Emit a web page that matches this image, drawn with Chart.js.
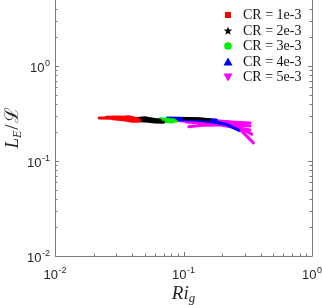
<!DOCTYPE html>
<html>
<head>
<meta charset="utf-8">
<script src="https://cdn.jsdelivr.net/npm/chart.js@4/dist/chart.umd.min.js"></script>
<style>
html,body{margin:0;padding:0;background:#fff;overflow:hidden;}
#wrap{position:relative;width:322px;height:305px;}
</style>
</head>
<body>
<div id="wrap"><canvas id="c" width="322" height="305"></canvas></div>
<script>
// ---- data ----
const seriesLabels = ['CR = 1e-3', 'CR = 2e-3', 'CR = 3e-3', 'CR = 4e-3', 'CR = 5e-3'];
const seriesColors = ['#ff0000', '#000000', '#00ee00', '#0000ff', '#ff00ff'];
const seriesMarkers = ['square', 'star', 'circle', 'triangle', 'triangleDown'];

// Ri_g values, one array per trajectory
const riCR1 = [[0.0221, 0.027, 0.033, 0.040, 0.046], [0.025, 0.031, 0.036, 0.042], [0.028, 0.034, 0.040, 0.045], [0.030, 0.037, 0.044]];
const leCR1 = [[0.284, 0.282, 0.280, 0.272, 0.268], [0.288, 0.290, 0.284, 0.270], [0.279, 0.272, 0.262, 0.262], [0.286, 0.293, 0.278]];

const riCR2 = [[0.042, 0.048, 0.055, 0.062], [0.044, 0.050, 0.058, 0.066], [0.046, 0.053, 0.060, 0.070], [0.10, 0.13, 0.16]];
const leCR2 = [[0.272, 0.276, 0.270, 0.262], [0.280, 0.285, 0.276, 0.268], [0.266, 0.262, 0.258, 0.256], [0.280, 0.279, 0.272]];

const riCR3 = [[0.060, 0.068, 0.077, 0.088], [0.063, 0.072, 0.082], [0.066, 0.075, 0.085]];
const leCR3 = [[0.270, 0.272, 0.268, 0.262], [0.262, 0.262, 0.257], [0.278, 0.276, 0.270]];

const riCR4 = [[0.075, 0.09, 0.11, 0.14, 0.18], [0.08, 0.10, 0.13, 0.17, 0.22, 0.27], [0.09, 0.12, 0.16, 0.21]];
const leCR4 = [[0.284, 0.282, 0.280, 0.276, 0.270], [0.278, 0.276, 0.272, 0.262, 0.240, 0.210], [0.272, 0.270, 0.260, 0.245]];

const riCR5 = [[0.087, 0.11, 0.14, 0.18, 0.24, 0.33], [0.095, 0.12, 0.16, 0.21, 0.27, 0.33], [0.11, 0.14, 0.19, 0.25, 0.33], [0.12, 0.16, 0.21, 0.27, 0.34], [0.13, 0.17, 0.22, 0.28, 0.35], [0.10, 0.13, 0.17, 0.22, 0.30], [0.092, 0.115, 0.15, 0.20, 0.26, 0.32], [0.105, 0.135, 0.18, 0.23, 0.29]];
const leCR5 = [[0.277, 0.276, 0.272, 0.265, 0.257, 0.251], [0.270, 0.268, 0.262, 0.250, 0.240, 0.234], [0.230, 0.238, 0.240, 0.225, 0.212], [0.262, 0.256, 0.245, 0.225, 0.192], [0.268, 0.262, 0.248, 0.210, 0.155], [0.274, 0.270, 0.264, 0.255, 0.246], [0.266, 0.262, 0.256, 0.248, 0.242, 0.240], [0.258, 0.252, 0.250, 0.236, 0.222]];

const xTickValues = [0.01, 0.1, 1];
const xTickExps = ['-2', '-1', '0'];
const yTickValues = [0.01, 0.1, 1];
const yTickExps = ['-2', '-1', '0'];

const xMin = 0.01, xMax = 1;
const yMin = 0.01, yMax = Math.pow(10, 0.695);

// ---- build datasets ----
const allRi = [riCR1, riCR2, riCR3, riCR4, riCR5];
const allLe = [leCR1, leCR2, leCR3, leCR4, leCR5];
const datasets = [];
allRi.forEach((runs, s) => {
  runs.forEach((xs, r) => {
    datasets.push({
      label: seriesLabels[s],
      group: s,
      data: xs.map((x, i) => ({x: x, y: allLe[s][r][i]})),
      showLine: true,
      borderColor: seriesColors[s],
      backgroundColor: seriesColors[s],
      borderWidth: 3,
      pointRadius: 0,
      tension: 0,
      borderCapStyle: 'round',
      borderJoinStyle: 'round'
    });
  });
});

const AXIS_COLOR = '#7a7a7a';
const TICK_FONT = '"Liberation Sans", Arial, sans-serif';
const SERIF = '"Liberation Serif", "Times New Roman", serif';

function drawPow(ctx, x, y, exp, align) {
  ctx.font = '13px ' + TICK_FONT;
  const wb = ctx.measureText('10').width;
  ctx.font = '9px ' + TICK_FONT;
  const we = ctx.measureText(exp).width;
  const w = wb + we + 0.5;
  let left;
  if (align === 'right') left = x - w;
  else left = x - w / 2;
  ctx.textBaseline = 'alphabetic';
  ctx.textAlign = 'left';
  ctx.font = '13px ' + TICK_FONT;
  ctx.fillText('10', left, y);
  ctx.font = '9px ' + TICK_FONT;
  ctx.fillText(exp, left + wb + 0.5, y - 6);
}

const framePlugin = {
  id: 'frame',
  afterDatasetsDraw(chart) {
    const ctx = chart.ctx;
    const a = chart.chartArea;
    const xs = chart.scales.x, ys = chart.scales.y;
    ctx.save();
    ctx.strokeStyle = AXIS_COLOR;
    ctx.lineWidth = 1;
    ctx.beginPath();
    ctx.moveTo(Math.round(a.left) + 0.5, a.top);
    ctx.lineTo(Math.round(a.left) + 0.5, Math.round(a.bottom) + 0.5);
    ctx.lineTo(Math.round(a.right) + 0.5, Math.round(a.bottom) + 0.5);
    ctx.lineTo(Math.round(a.right) + 0.5, a.top);
    ctx.stroke();
    ctx.beginPath();
    for (let d = -2; d <= 0; d++) {
      for (let m = 1; m <= 9; m++) {
        const v = m * Math.pow(10, d);
        const major = m === 1;
        const len = major ? 4 : 2.5;
        if (v >= xMin && v <= xMax) {
          const px = Math.round(xs.getPixelForValue(v)) + 0.5;
          ctx.moveTo(px, a.bottom); ctx.lineTo(px, a.bottom - len);
        }
        if (v >= yMin && v <= yMax) {
          const py = Math.round(ys.getPixelForValue(v)) + 0.5;
          ctx.moveTo(a.left, py); ctx.lineTo(a.left + len, py);
          ctx.moveTo(a.right, py); ctx.lineTo(a.right - len, py);
        }
      }
    }
    ctx.stroke();
    ctx.fillStyle = '#262626';
    xTickValues.forEach((v, i) => {
      drawPow(ctx, xs.getPixelForValue(v), a.bottom + 23, xTickExps[i], 'center');
    });
    yTickValues.forEach((v, i) => {
      drawPow(ctx, a.left - 5, ys.getPixelForValue(v) + 6, yTickExps[i], 'right');
    });
    ctx.fillStyle = '#262626';
    ctx.font = 'italic 19px ' + SERIF;
    const wRi = ctx.measureText('Ri').width;
    ctx.font = 'italic 13px ' + SERIF;
    const wg = ctx.measureText('g').width;
    let lx = (a.left + a.right) / 2 - (wRi + wg) / 2;
    ctx.textAlign = 'left';
    ctx.textBaseline = 'alphabetic';
    ctx.font = 'italic 19px ' + SERIF;
    ctx.fillText('Ri', lx, 299);
    ctx.font = 'italic 13px ' + SERIF;
    ctx.fillText('g', lx + wRi, 302);
    ctx.translate(18, 128);
    ctx.rotate(-Math.PI / 2);
    ctx.font = 'italic 19px ' + SERIF;
    const wL = ctx.measureText('L').width;
    ctx.font = 'italic 12px ' + SERIF;
    const wE = ctx.measureText('E').width;
    ctx.font = '19px ' + SERIF;
    const wS = ctx.measureText('/').width;
    const wC = ctx.measureText('ℒ').width;
    const tot = wL + wE + wS + wC + 2;
    let tx = -tot / 2;
    ctx.font = 'italic 19px ' + SERIF;
    ctx.fillText('L', tx, 0); tx += wL;
    ctx.font = 'italic 12px ' + SERIF;
    ctx.fillText('E', tx, 3); tx += wE + 1;
    ctx.font = '19px ' + SERIF;
    ctx.fillText('/', tx, 0); tx += wS + 1;
    ctx.fillText('ℒ', tx, 0);
    ctx.restore();

    ctx.save();
    const legY = [15, 31, 46, 62, 77];
    seriesLabels.forEach((lab, i) => {
      const cx = 228, cy = legY[i];
      ctx.fillStyle = seriesColors[i];
      drawMarker(ctx, seriesMarkers[i], cx, cy);
      ctx.fillStyle = '#111';
      ctx.font = '14px ' + SERIF;
      ctx.textAlign = 'left';
      ctx.textBaseline = 'middle';
      ctx.fillText(lab, 243, cy + 0.5);
    });
    ctx.restore();
  }
};

function drawMarker(ctx, type, cx, cy) {
  ctx.beginPath();
  if (type === 'square') {
    ctx.rect(cx - 3, cy - 3, 6, 6);
  } else if (type === 'circle') {
    ctx.arc(cx, cy, 3.8, 0, Math.PI * 2);
  } else if (type === 'triangle') {
    ctx.moveTo(cx, cy - 4.5); ctx.lineTo(cx + 4.5, cy + 3.5); ctx.lineTo(cx - 4.5, cy + 3.5); ctx.closePath();
  } else if (type === 'triangleDown') {
    ctx.moveTo(cx, cy + 4.5); ctx.lineTo(cx + 4.5, cy - 3.5); ctx.lineTo(cx - 4.5, cy - 3.5); ctx.closePath();
  } else if (type === 'star') {
    const R = 4.5, r = 1.9;
    for (let k = 0; k < 10; k++) {
      const ang = -Math.PI / 2 + k * Math.PI / 5;
      const rr = k % 2 === 0 ? R : r;
      const px = cx + rr * Math.cos(ang), py = cy + rr * Math.sin(ang);
      if (k === 0) ctx.moveTo(px, py); else ctx.lineTo(px, py);
    }
    ctx.closePath();
  }
  ctx.fill();
}

new Chart(document.getElementById('c'), {
  type: 'scatter',
  data: { datasets: datasets },
  options: {
    responsive: false,
    animation: false,
    layout: { padding: { left: 55, right: 10, top: 0, bottom: 49 } },
    plugins: { legend: { display: false }, tooltip: { enabled: false } },
    scales: {
      x: {
        type: 'logarithmic', min: xMin, max: xMax,
        grid: { display: false, drawTicks: false },
        border: { display: false },
        ticks: { display: false },
        afterFit(s) { s.height = 0; }
      },
      y: {
        type: 'logarithmic', min: yMin, max: yMax,
        grid: { display: false, drawTicks: false },
        border: { display: false },
        ticks: { display: false },
        afterFit(s) { s.width = 0; }
      }
    }
  },
  plugins: [framePlugin]
});
</script>
</body>
</html>
